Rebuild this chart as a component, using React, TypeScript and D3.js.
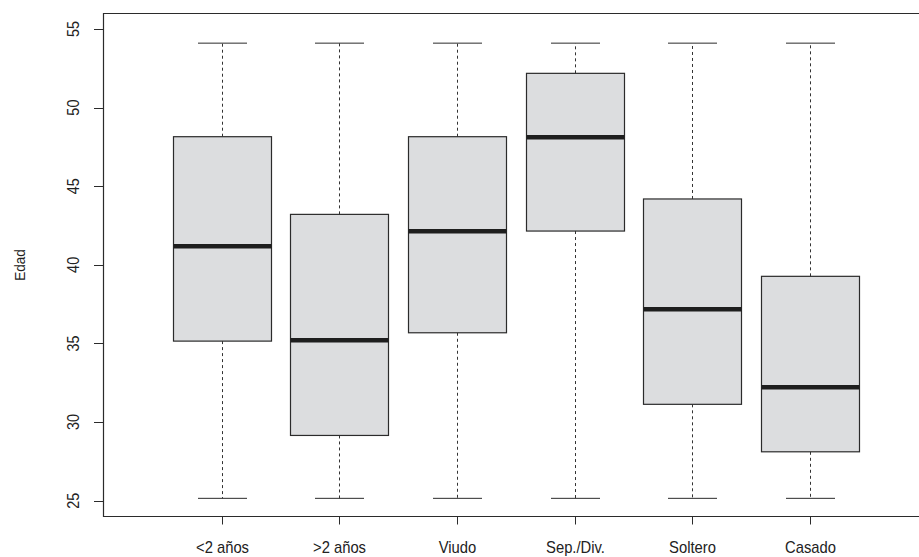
import React from "react";
import * as d3 from "d3";

// Age distribution by marital status
const categories = ["<2 años", ">2 años", "Viudo", "Sep./Div.", "Soltero", "Casado"];
const whiskerLow = [25.15, 25.15, 25.15, 25.15, 25.15, 25.15];
const q1 = [35.15, 29.15, 35.68, 42.15, 31.13, 28.11];
const median = [41.18, 35.2, 42.13, 48.11, 37.17, 32.21];
const q3 = [48.15, 43.21, 48.15, 52.18, 44.19, 39.27];
const whiskerHigh = [54.1, 54.1, 54.1, 54.1, 54.1, 54.1];
const yTicks = [25, 30, 35, 40, 45, 50, 55];

const W = 919;
const H = 557;
const frame = { left: 103.5, top: 13.5, bottom: 516.5, right: 940 };

export default function App() {
  const x = d3.scaleLinear().domain([0, 7]).range([104, 104 + 7 * 117.66]);
  const y = d3.scaleLinear().domain([25, 55]).range([500.7, 29]);
  const boxW = 98;
  const capW = 49;
  const font = "'Liberation Sans', Arial, sans-serif";
  const stroke = "#2b2b2b";
  const condensed = 0.87;

  return (
    <svg
      width={W}
      height={H}
      style={{ position: "absolute", left: 0, top: 0, background: "#fff" }}
      fontFamily={font}
    >
      {categories.map((c, i) => {
        const cx = Math.round(x(i + 1)) + 0.5;
        return (
          <g key={c}>
            {/* whiskers */}
            <line x1={cx} x2={cx} y1={y(q3[i])} y2={y(whiskerHigh[i])} stroke="#333" strokeWidth={1} strokeDasharray="3,3" />
            <line x1={cx} x2={cx} y1={y(q1[i])} y2={y(whiskerLow[i])} stroke="#333" strokeWidth={1} strokeDasharray="3,3" />
            <line x1={cx - capW / 2} x2={cx + capW / 2} y1={y(whiskerHigh[i])} y2={y(whiskerHigh[i])} stroke={stroke} strokeWidth={1} />
            <line x1={cx - capW / 2} x2={cx + capW / 2} y1={y(whiskerLow[i])} y2={y(whiskerLow[i])} stroke={stroke} strokeWidth={1} />
            {/* box */}
            <rect
              x={cx - boxW / 2}
              y={y(q3[i])}
              width={boxW}
              height={y(q1[i]) - y(q3[i])}
              fill="#dcdddf"
              stroke={stroke}
              strokeWidth={1.2}
            />
            <line x1={cx - boxW / 2} x2={cx + boxW / 2} y1={y(median[i])} y2={y(median[i])} stroke="#1e1e1e" strokeWidth={4.5} />
            {/* x tick and label */}
            <line x1={cx} x2={cx} y1={frame.bottom} y2={frame.bottom + 8} stroke={stroke} strokeWidth={1} />
            <text
              transform={`translate(${cx},553) scale(${condensed},1)`}
              textAnchor="middle"
              fontSize={17}
              fill="#222"
            >
              {c}
            </text>
          </g>
        );
      })}

      {/* frame (right side runs past the canvas) */}
      <path
        d={`M${frame.right},${frame.top}H${frame.left}V${frame.bottom}H${frame.right}`}
        fill="none"
        stroke={stroke}
        strokeWidth={1.2}
      />

      {/* y axis ticks */}
      {yTicks.map((t) => (
        <g key={t}>
          <line x1={94} x2={frame.left} y1={Math.round(y(t)) + 0.5} y2={Math.round(y(t)) + 0.5} stroke={stroke} strokeWidth={1} />
          <text
            transform={`translate(79,${y(t)}) rotate(-90) scale(0.85,1)`}
            textAnchor="middle"
            fontSize={17}
            fill="#222"
          >
            {t}
          </text>
        </g>
      ))}

      <text
        transform={`translate(25,${(frame.top + frame.bottom) / 2}) rotate(-90) scale(0.93,1)`}
        textAnchor="middle"
        fontSize={14.5}
        fill="#222"
      >
        Edad
      </text>
    </svg>
  );
}
